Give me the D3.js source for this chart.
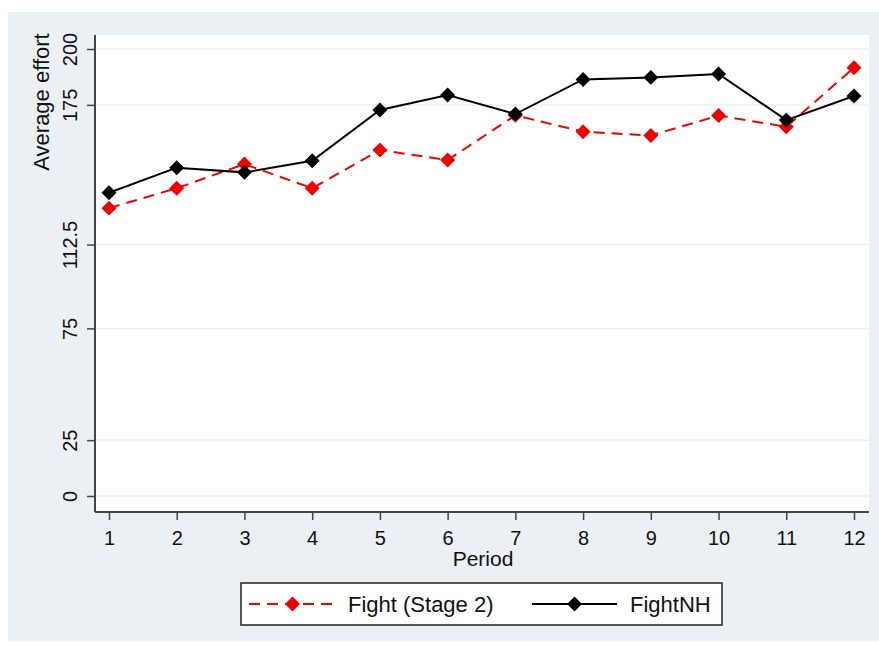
<!DOCTYPE html>
<html>
<head>
<meta charset="utf-8">
<script src="https://cdn.jsdelivr.net/npm/d3@7"></script>
<style>
  body { margin: 0; background: #fff; }
  text { font-family: "Liberation Sans", Arial, sans-serif; fill: #111; }
</style>
</head>
<body>
<div id="chart-area"></div>
<script>
// data
const periods = [1, 2, 3, 4, 5, 6, 7, 8, 9, 10, 11, 12];
const fightStage2 = [128.8, 137.7, 148.5, 137.7, 154.8, 150.3, 170.3, 163.0, 161.3, 170.2, 165.2, 191.6];
const fightNH = [135.7, 146.9, 144.8, 150.0, 172.7, 179.4, 170.9, 186.4, 187.3, 188.8, 168.2, 179.0];
const yTicks = [0, 25, 75, 112.5, 175, 200];
const seriesNames = ["Fight (Stage 2)", "FightNH"];

const width = 879;
const height = 646;

const svg = d3
  .select("#chart-area")
  .append("svg")
  .attr("width", width)
  .attr("height", height);

// outer graph region
svg
  .append("rect")
  .attr("x", 8)
  .attr("y", 12)
  .attr("width", 871)
  .attr("height", 629)
  .attr("fill", "#eaf0f3");

// plot region
const plot = { left: 96, right: 869, top: 35, bottom: 511 };

svg
  .append("rect")
  .attr("x", plot.left)
  .attr("y", plot.top)
  .attr("width", plot.right - plot.left)
  .attr("height", plot.bottom - plot.top)
  .attr("fill", "#fff");

// scales
const x = d3.scaleLinear().domain([1, 12]).range([109, 854]);
const y = d3.scaleLinear().domain([0, 200]).range([496, 49]);

// gridlines
svg
  .append("g")
  .selectAll("line")
  .data(yTicks)
  .enter()
  .append("line")
  .attr("x1", plot.left)
  .attr("x2", plot.right)
  .attr("y1", d => y(d))
  .attr("y2", d => y(d))
  .attr("stroke", "#eceeef")
  .attr("stroke-width", 1.5);

// axes
const yAxisGroup = svg
  .append("g")
  .attr("transform", `translate(${plot.left - 1},0)`)
  .call(d3.axisLeft(y).tickValues(yTicks).tickSize(8).tickFormat(d3.format("")));

const xAxisGroup = svg
  .append("g")
  .attr("transform", `translate(0,${plot.bottom + 1})`)
  .call(d3.axisBottom(x).tickValues(periods).tickSize(8).tickFormat(d3.format("d")));

[xAxisGroup, yAxisGroup].forEach(g => {
  g.select(".domain").remove();
  g.selectAll(".tick line").attr("stroke", "#444").attr("stroke-width", 1.5);
});

// axis lines drawn to the plot edges
svg
  .append("line")
  .attr("x1", plot.left - 1)
  .attr("x2", plot.left - 1)
  .attr("y1", plot.top)
  .attr("y2", plot.bottom + 1)
  .attr("stroke", "#444")
  .attr("stroke-width", 2);

svg
  .append("line")
  .attr("x1", plot.left - 1)
  .attr("x2", plot.right)
  .attr("y1", plot.bottom + 1)
  .attr("y2", plot.bottom + 1)
  .attr("stroke", "#444")
  .attr("stroke-width", 2);

xAxisGroup
  .selectAll(".tick text")
  .attr("y", 33)
  .attr("dy", 0)
  .style("font-size", "20px")
  .style("font-family", "Liberation Sans, Arial, sans-serif")
  .attr("fill", "#111");

yAxisGroup
  .selectAll(".tick text")
  .attr("x", 0)
  .attr("y", 0)
  .attr("dy", 0)
  .attr("text-anchor", "middle")
  .attr("transform", "translate(-18,0) rotate(-90)")
  .style("font-size", "20px")
  .style("font-family", "Liberation Sans, Arial, sans-serif")
  .attr("fill", "#111");

// axis titles
svg
  .append("text")
  .text("Period")
  .attr("x", 483)
  .attr("y", 566)
  .attr("text-anchor", "middle")
  .style("font-size", "21px");

svg
  .append("text")
  .text("Average effort")
  .attr("transform", "translate(49,102) rotate(-90)")
  .attr("text-anchor", "middle")
  .style("font-size", "22px");

// lines
const line = d3
  .line()
  .x((d, i) => x(periods[i]))
  .y(d => y(d));

const diamond = d3.symbol().type(d3.symbolSquare).size(112);

const drawSeries = (values, color, dash) => {
  svg
    .append("path")
    .datum(values)
    .attr("d", line)
    .attr("fill", "none")
    .attr("stroke", color)
    .attr("stroke-width", 2)
    .attr("stroke-dasharray", dash);

  svg
    .append("g")
    .selectAll("path")
    .data(values)
    .enter()
    .append("path")
    .attr("d", diamond)
    .attr("transform", (d, i) => `translate(${x(periods[i])},${y(d)}) rotate(45)`)
    .attr("fill", color);
};

drawSeries(fightStage2, "#f00000", "11,7");
drawSeries(fightNH, "#000", null);

// legend
const legend = svg.append("g");

legend
  .append("rect")
  .attr("x", 241)
  .attr("y", 583)
  .attr("width", 481)
  .attr("height", 42)
  .attr("fill", "#fff")
  .attr("stroke", "#222")
  .attr("stroke-width", 1.5);

const legendItems = [
  { name: seriesNames[0], color: "#f00000", dash: "11,7", x1: 249, x2: 336, text: 348 },
  { name: seriesNames[1], color: "#000", dash: null, x1: 532, x2: 617, text: 630 }
];

legendItems.forEach(item => {
  legend
    .append("line")
    .attr("x1", item.x1)
    .attr("x2", item.x2)
    .attr("y1", 604)
    .attr("y2", 604)
    .attr("stroke", item.color)
    .attr("stroke-width", 2)
    .attr("stroke-dasharray", item.dash);

  legend
    .append("path")
    .attr("d", diamond)
    .attr("transform", `translate(${(item.x1 + item.x2) / 2},604) rotate(45)`)
    .attr("fill", item.color);

  legend
    .append("text")
    .text(item.name)
    .attr("x", item.text)
    .attr("y", 612)
    .style("font-size", "22px");
});
</script>
</body>
</html>
